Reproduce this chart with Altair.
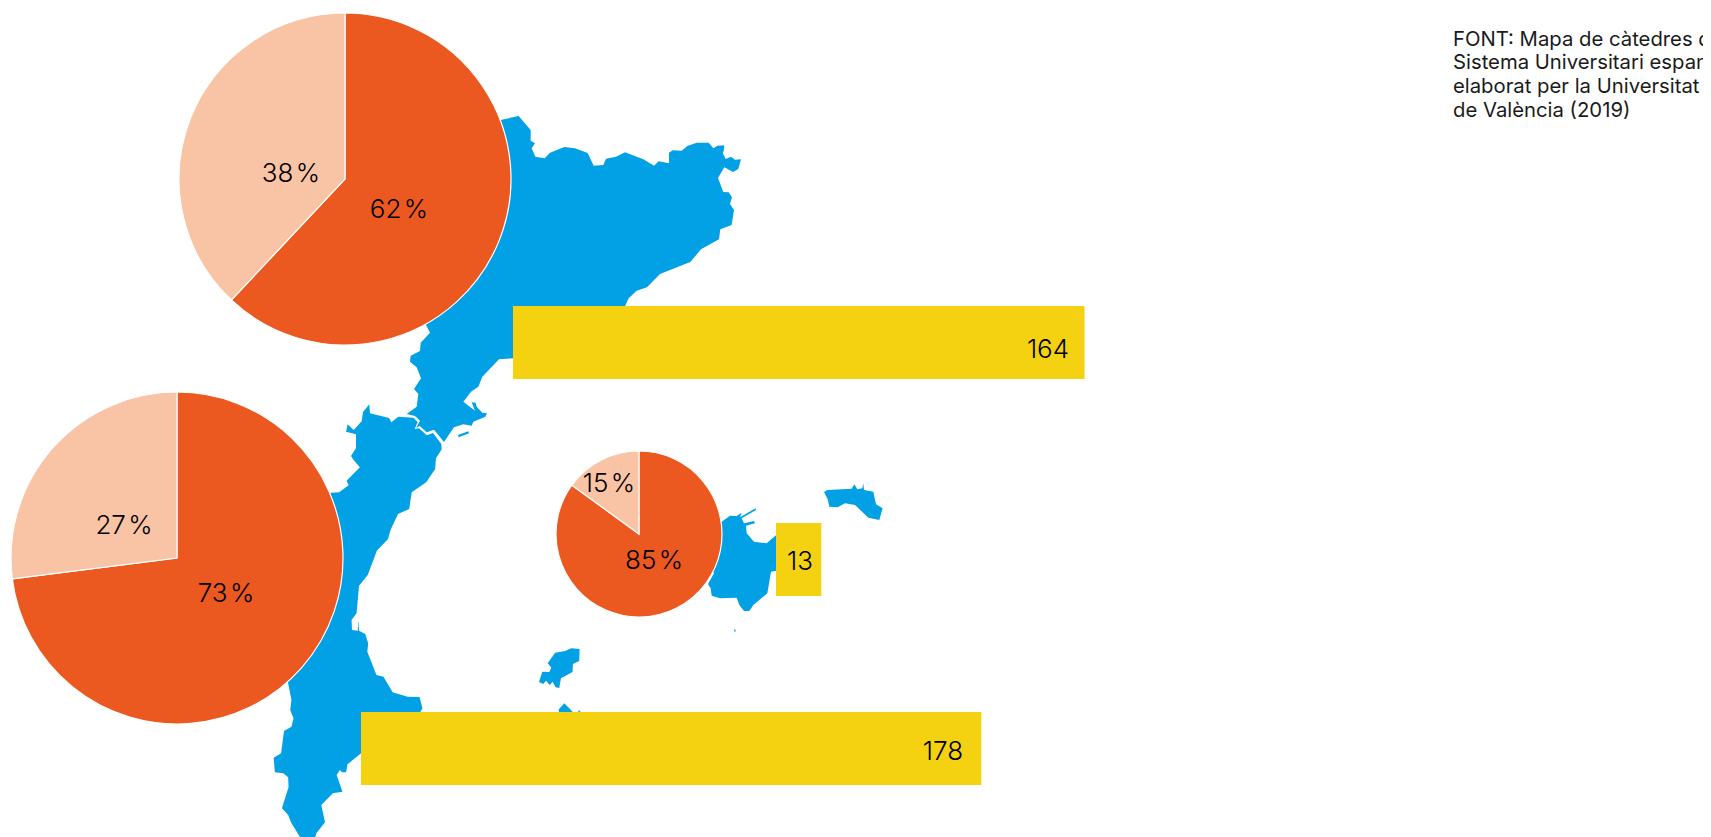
import altair as alt
import pandas as pd

WIDTH, HEIGHT = 1695, 829
FONT = "Inter"
ORANGE, PEACH, BLUE, YELLOW = "#EB5921", "#F9C3A5", "#02A1E6", "#F4D211"

# --- values ---
pie_cx = [345, 177, 639]
pie_cy = [179, 558, 534]
pie_radius = [166, 166, 83]
pie_share = [62, 73, 85]

bar_value = [164, 178, 13]
bar_left = [513, 361, 776]
bar_top = [306, 712, 523]
bar_bottom = [379, 785, 596]
PX_PER_UNIT = 3.485

label_text = ["62\u200a%", "38\u200a%", "73\u200a%", "27\u200a%", "85\u200a%", "15\u200a%", "164", "178", "13"]
label_x = [399, 291, 226, 124, 654, 609, 1048, 943, 800]
label_y = [210, 174, 594, 526, 561, 484, 350, 752, 562]

source_lines = ["FONT: Mapa de càtedres del", "Sistema Universitari espanyol,", "elaborat per la Universitat", "de València (2019)"]
source_y = [40, 63, 87, 111]

# --- map outlines ---
catalonia = [(752,90),(806,78),(842,120),(842,152),(855,160),(845,175),(856,200),(884,205),(900,188),(943,171),(975,175),(1013,189),(1031,227),(1060,225),(1068,206),(1098,200),(1125,187),(1180,208),(1212,227),(1226,214),(1257,220),(1257,188),(1268,181),(1295,182),(1312,168),(1340,158),(1376,158),(1390,175),(1402,167),(1423,166),(1421,184),(1418,188),(1427,207),(1443,200),(1455,209),(1473,208),(1465,237),(1449,246),(1423,232),(1404,264),(1420,306),(1436,307),(1446,322),(1440,342),(1452,360),(1445,405),(1411,418),(1407,448),(1353,478),(1321,516),(1230,552),(1191,592),(1160,602),(1136,625),(1120,660),(900,800),(789,805),(747,808),(697,860),(685,890),(663,905),(640,935),(675,962),(665,937),(677,938),(680,950),(697,968),(711,970),(706,980),(670,995),(665,1007),(640,1003),(612,1012),(582,1056),(552,1019),(530,1027),(509,1008),(498,1014),(510,992),(495,978),(470,972),(500,950),(505,912),(492,897),(513,865),(500,832),(480,815),(482,797),(510,783),(512,758),(540,728),(528,705),(600,600),(700,300)]
delta_islet = [(624,1035),(655,1024),(657,1030),(626,1042)]
valencia_top = [(288,1025),(293,1003),(311,1020),(335,994),(339,966),(358,943),(360,970),(417,984),(424,997),(445,980),(490,983),(503,996),(494,1017),(507,1015),(530,1036),(549,1029),(574,1062),(575,1078),(558,1105),(555,1140)]
valencia_south = [(445,30),(425,67),(390,97),(384,147),(357,162),(339,210),(333,237),(306,272),(284,345),(263,377),(257,460),(245,480),(246,510),(260,512),(261,480),(263,512),(278,522),(285,550),(283,575),(305,645),(322,650),(344,697),(380,710),(409,711),(416,745),(404,770),(268,880),(235,913),(232,937),(222,937),(217,930),(209,945),(223,995),(200,1000),(172,1035),(181,1087),(160,1120),(155,1140),(125,1140),(100,1090),(92,1065),(77,1045),(93,982),(92,952),(80,940),(60,937),(57,893),(75,880),(82,813),(100,800),(105,775),(97,750),(100,720),(92,670),(60,400),(150,150),(195,98),(215,97),(238,76),(233,62),(265,22),(250,0)]
valencia_close = [(303,1098),(318,1074),(318,1033)]
ibiza = [(795,567),(794,603),(779,612),(778,636),(750,655),(746,684),(737,682),(730,665),(723,675),(714,662),(707,672),(697,666),(705,635),(722,636),(727,623),(718,610),(736,578),(760,573),(775,565)]
formentera = [(745,748),(758,730),(770,745),(785,765),(745,765)]
formentera_tip = [(793,750),(798,757),(798,765),(790,765)]
mallorca = [(545,275),(570,257),(590,258),(605,248),(600,262),(647,235),(648,240),(605,265),(612,280),(642,273),(645,280),(618,287),(620,310),(642,335),(680,340),(708,316),(720,420),(693,425),(682,490),(640,525),(628,543),(612,543),(598,525),(590,503),(540,505),(515,497),(512,475),(504,462),(522,430),(480,350)]
cabrera = [(582,598),(587,600),(586,606),(583,604)]
menorca = [(852,186),(862,180),(935,176),(943,163),(952,178),(967,175),(970,160),(972,180),(1000,185),(1008,223),(1028,235),(1018,270),(985,263),(945,225),(915,220),(893,232),(868,230),(863,208)]


def crop1(p):
    return [[x / 3 + 250, y / 3 + 90] for x, y in p]


def crop2(p):
    return [[x / 2.412 + 250, y / 3 + 460] for x, y in p]


def crop4(p):
    return [[x / 3 + 540, y / 3 + 430] for x, y in p]


def feature(points):
    ring = points + [points[0]]
    return {"type": "Feature", "properties": {}, "geometry": {"type": "Polygon", "coordinates": [ring]}}


regions = [
    crop1(catalonia),
    crop1(delta_islet),
    crop1(valencia_top) + crop2(valencia_south) + crop1(valencia_close),
    crop2(ibiza),
    crop2(formentera),
    crop2(formentera_tip),
    crop4(mallorca),
    crop4(cabrera),
    crop4(menorca),
]

x_scale = alt.Scale(domain=[8, 8 + WIDTH], range=[0, WIDTH], nice=False, zero=False)
y_scale = alt.Scale(domain=[8, 8 + HEIGHT], range=[0, HEIGHT], nice=False, zero=False)

map_layer = (
    alt.Chart(alt.Data(values=[feature(r) for r in regions]))
    .mark_geoshape(fill=BLUE, stroke=None)
    .project(type="identity", scale=1, translate=[-8, -8])
)

bars = pd.DataFrame({"value": bar_value, "left": bar_left, "top": bar_top, "bottom": bar_bottom})
bar_layer = (
    alt.Chart(bars)
    .transform_calculate(right=f"datum.left + datum.value * {PX_PER_UNIT}")
    .mark_rect(color=YELLOW)
    .encode(
        x=alt.X("left:Q", scale=x_scale, axis=None),
        x2="right:Q",
        y=alt.Y("top:Q", scale=y_scale, axis=None),
        y2="bottom:Q",
    )
)

rows = []
for cx, cy, r, s in zip(pie_cx, pie_cy, pie_radius, pie_share):
    rows.append({"cx": cx, "cy": cy, "r": r, "start": 0, "end": s, "part": "a"})
    rows.append({"cx": cx, "cy": cy, "r": r, "start": s, "end": 100, "part": "b"})
pie_layer = (
    alt.Chart(pd.DataFrame(rows))
    .mark_arc(stroke="white", strokeWidth=1.2)
    .encode(
        x=alt.X("cx:Q", scale=x_scale, axis=None),
        y=alt.Y("cy:Q", scale=y_scale, axis=None),
        theta=alt.Theta("start:Q", scale=alt.Scale(domain=[0, 100], range=[0, 6.283185])),
        theta2="end:Q",
        radius=alt.Radius("r:Q", scale=None),
        color=alt.Color("part:N", scale=alt.Scale(domain=["a", "b"], range=[ORANGE, PEACH]), legend=None),
    )
)

labels = pd.DataFrame({"t": label_text, "x": label_x, "y": label_y})
label_layer = (
    alt.Chart(labels)
    .mark_text(font=FONT, fontSize=26, fontWeight=300, color="#000000", align="center", baseline="middle")
    .encode(
        x=alt.X("x:Q", scale=x_scale, axis=None),
        y=alt.Y("y:Q", scale=y_scale, axis=None),
        text="t:N",
    )
)

source = pd.DataFrame({"t": source_lines, "y": source_y, "x": [1453] * len(source_lines)})
source_layer = (
    alt.Chart(source)
    .mark_text(font=FONT, fontSize=20.3, fontWeight=400, color="#1a1a1a", align="left", baseline="middle")
    .encode(
        x=alt.X("x:Q", scale=x_scale, axis=None),
        y=alt.Y("y:Q", scale=y_scale, axis=None),
        text="t:N",
    )
)

chart = (
    alt.layer(map_layer, bar_layer, pie_layer, label_layer, source_layer)
    .properties(
        width=WIDTH,
        height=HEIGHT,
        padding=0,
        background="white",
        autosize=alt.AutoSizeParams(type="none", contains="padding"),
    )
    .configure_view(stroke=None)
)

chart.save("out.html", embed_options={"renderer": "svg", "actions": False})
